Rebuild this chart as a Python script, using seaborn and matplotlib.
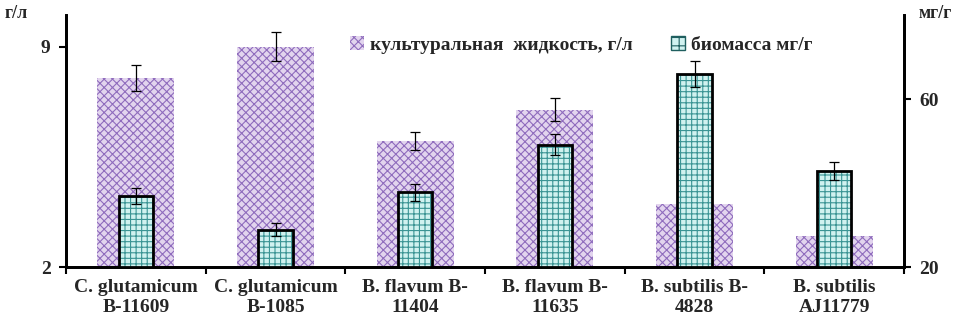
import numpy as np
import pandas as pd
import matplotlib
matplotlib.use('Agg')
import matplotlib.pyplot as plt
import seaborn as sns
from matplotlib.patches import Patch

# data
strains = ['C. glutamicum\nB-11609', 'C. glutamicum\nB-1085', 'B. flavum B-\n11404',
           'B. flavum B-\n11635', 'B. subtilis B-\n4828', 'B. subtilis\nAJ11779']
culture = [8.0, 9.0, 6.0, 7.0, 4.0, 3.0]          # г/л, left axis
culture_err = [0.4, 0.45, 0.3, 0.35, 0.0, 0.0]
biomass = [36.8, 28.9, 37.8, 49.1, 66.0, 42.8]    # мг/г, right axis
biomass_err = [1.9, 1.5, 2.0, 2.5, 3.1, 2.2]

df = pd.DataFrame({'strain': strains, 'culture': culture, 'biomass': biomass})

sns.set_style('white')
plt.rcParams['font.family'] = ['Liberation Serif', 'DejaVu Serif']
plt.rcParams['font.weight'] = 'bold'
plt.rcParams['hatch.linewidth'] = 0.8

fig = plt.figure(figsize=(9.61, 3.25), dpi=100)
ax1 = fig.add_axes([66 / 961, 1 - 267 / 325, 838 / 961, 252 / 325])
ax2 = ax1.twinx()

# culture liquid - wide purple bars
sns.barplot(data=df, x='strain', y='culture', ax=ax1, width=0.55, color='#e2d4ee',
            errorbar=None, edgecolor='#8f6cbd', linewidth=0, hatch='xxxx', saturation=1)
ax1.errorbar(np.arange(len(strains)), culture, yerr=culture_err, fmt='none',
             ecolor='black', elinewidth=0.9, capsize=3.5, capthick=0.9)

# biomass - narrow teal bars
sns.barplot(data=df, x='strain', y='biomass', ax=ax2, width=0.245, color='#d0f2f0',
            errorbar=None, edgecolor='#3a9494', linewidth=0, hatch='+++', saturation=1)
sns.barplot(data=df, x='strain', y='biomass', ax=ax2, width=0.245, fill=False,
            errorbar=None, edgecolor='black', linewidth=2)
ax2.errorbar(np.arange(len(strains)), biomass, yerr=biomass_err, fmt='none',
             ecolor='black', elinewidth=0.9, capsize=3.5, capthick=0.9)

ax1.set_ylim(2, 10)
ax1.set_yticks([2, 9])
ax2.set_ylim(20, 80)
ax2.set_yticks([20, 60])
ax1.set_xlim(-0.5, len(strains) - 0.5)
ax2.set_xlim(-0.5, len(strains) - 0.5)

ax1.set_xticks(np.arange(-0.5, len(strains), 1))
ax1.set_xticklabels([])
ax1.set_xticks(np.arange(len(strains)), minor=True)
ax1.set_xticklabels(strains, minor=True, fontsize=14, fontweight='bold', linespacing=1.2)
ax1.tick_params(axis='x', which='major', direction='out', length=5, width=1.5, color='black', bottom=True)
ax1.tick_params(axis='x', which='minor', length=0, pad=9)
ax1.tick_params(axis='y', direction='out', length=5, width=1.5, color='black', left=True, labelsize=14, pad=6)
ax2.tick_params(axis='y', direction='out', length=5, width=1.5, color='black', right=True, labelsize=14, pad=6)
ax2.tick_params(axis='x', which='both', bottom=False, top=False, labelbottom=False)

for ax in (ax1, ax2):
    ax.set_xlabel('')
    ax.set_ylabel('')
    ax.spines['top'].set_visible(False)
    for s in ('left', 'right', 'bottom'):
        ax.spines[s].set_color('black')
        ax.spines[s].set_linewidth(2)

fig.text(5 / 961, 1 - 13 / 325, 'г/л', fontsize=13, fontweight='bold', va='center', ha='left')
fig.text(919 / 961, 1 - 13 / 325, 'мг/г', fontsize=13, fontweight='bold', va='center', ha='left')

handles = [Patch(facecolor='#e2d4ee', edgecolor='#8f6cbd', hatch='xxxx', linewidth=0),
           Patch(facecolor='#d0f2f0', edgecolor='#1f5f5f', hatch='++', linewidth=1)]
ax2.legend(handles, ['культуральная  жидкость, г/л', 'биомасса мг/г'], ncol=2,
           loc='center', bbox_to_anchor=(0.615, 0.88), frameon=False,
           handlelength=0.7, handleheight=0.7, handletextpad=0.3, columnspacing=2.0,
           prop={'weight': 'bold', 'size': 14})

fig.savefig('out.png', dpi=100)
